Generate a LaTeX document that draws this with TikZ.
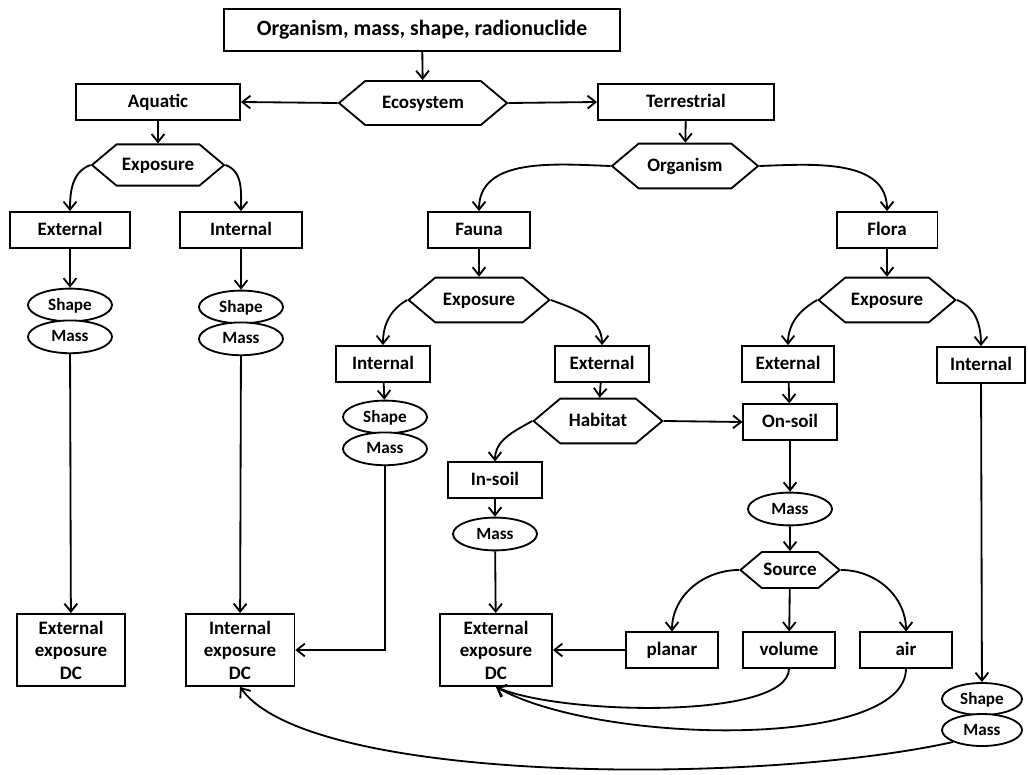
\documentclass[tikz,border=0pt]{standalone}
\usepackage{fontspec}
\setmainfont{Carlito}
\usepackage{tikz}
\usetikzlibrary{positioning, shapes.geometric, shapes.symbols, arrows, arrows.meta}

\begin{document}
\begin{tikzpicture}[x=0.025cm, y=-0.025cm, >={Straight Barb[length=2mm, width=3.2mm]}, every node/.style={font=\bfseries\fontsize{13.5}{16}\selectfont}]
		\tikzstyle{boxr}=[draw=black, line width=1.3pt, fill=white, minimum height=0.9cm, text height=1.8ex, text depth=.3ex, text=black]
		\tikzstyle{dcbox}=[draw=black, line width=1.3pt, fill=white, minimum width=2.75cm, minimum height=1.8cm, align=center, text=black]
		\tikzstyle{hexa}=[draw=black, line width=1.3pt, fill=white, signal, signal to=west and east, signal pointer angle=80, minimum height=1.1cm, inner xsep=0pt, text height=1.8ex, text depth=.3ex]
		\tikzstyle{ovalc}=[draw=black, line width=1.3pt, fill=white, ellipse, minimum width=2.1cm, minimum height=0.82cm, inner sep=0pt, text height=1.8ex, text depth=.3ex, font=\bfseries\fontsize{12.2}{14}\selectfont]
		\tikzstyle{link}=[line width=1.3pt, ->]
		
		\useasboundingbox (0,0) rectangle (1028,775);
		
		\node[boxr, minimum width=9.9cm, minimum height=1.03cm, font=\bfseries\fontsize{15.5}{18}\selectfont] (top) at (422,30) {Organism, mass, shape, radionuclide};
		\node[hexa, minimum width=4.2cm] (eco) at (423,103) {Ecosystem};
		\node[boxr, minimum width=4.1cm, minimum height=0.88cm] (aq) at (158,102) {Aquatic};
		\node[boxr, minimum width=4.4cm, minimum height=0.88cm] (ter) at (686,102) {Terrestrial};
		
		%% aquatic branch
		\node[hexa, minimum width=3.3cm, minimum height=1.03cm] (aqexp) at (158,165) {Exposure};
		\node[boxr, minimum width=3cm] (aqext) at (70,230) {External};
		\node[boxr, minimum width=3.05cm] (aqint) at (241,230) {Internal};
		\node[ovalc] (aqS1) at (70,305) {Shape};
		\node[ovalc, below=-2pt of aqS1] (aqM1) {Mass};
		\node[ovalc] (aqS2) at (241,307) {Shape};
		\node[ovalc, below=-2pt of aqS2] (aqM2) {Mass};
		\node[dcbox, minimum width=2.7cm] (dc1) at (71,650) {External\\exposure\\DC};
		\node[dcbox, minimum width=2.72cm] (dc2) at (240,650) {Internal\\exposure\\DC};
		
		%% terrestrial branch
		\node[hexa, minimum width=3.65cm, minimum height=1.12cm] (org) at (685,166) {Organism};
		\node[boxr, minimum width=2.55cm] (fauna) at (479,230) {Fauna};
		\node[boxr, minimum width=2.52cm] (flora) at (887,230) {Flora};
		\node[hexa, minimum width=3.52cm, minimum height=1.12cm] (faexp) at (479,300) {Exposure};
		\node[hexa, minimum width=3.42cm, minimum height=1.12cm] (flexp) at (887,300) {Exposure};
		\node[boxr, minimum width=2.33cm] (faint) at (383,364) {Internal};
		\node[boxr, minimum width=2.33cm] (faext) at (602,364) {External};
		\node[boxr, minimum width=2.3cm] (flext) at (788,364) {External};
		\node[boxr, minimum width=2.18cm] (flint) at (981,365) {Internal};
		\node[ovalc] (faS) at (385,417) {Shape};
		\node[ovalc, below=-2pt of faS] (faM) {Mass};
		\node[hexa, minimum width=3.22cm, minimum height=1.12cm] (hab) at (598,421) {Habitat};
		\node[boxr, minimum width=2.33cm, minimum height=0.88cm] (onsoil) at (790,422) {On-soil};
		\node[boxr, minimum width=2.33cm, minimum height=0.88cm] (insoil) at (495,480) {In-soil};
		\node[ovalc] (inM) at (495,534) {Mass};
		\node[ovalc] (onM) at (790,509) {Mass};
		\node[hexa, minimum width=2.48cm, minimum height=0.9cm] (src) at (790,570) {Source};
		\node[boxr, minimum width=2.3cm, minimum height=0.88cm] (planar) at (672,650) {planar};
		\node[boxr, minimum width=2.3cm, minimum height=0.88cm] (volume) at (789,650) {volume};
		\node[boxr, minimum width=2.3cm, minimum height=0.88cm] (air) at (906,650) {air};
		\node[dcbox, minimum width=2.8cm] (dc3) at (496,650) {External\\exposure\\DC};
		\node[ovalc, minimum width=2cm, minimum height=0.8cm] (flS) at (982,699) {Shape};
		\node[ovalc, minimum width=2cm, minimum height=0.8cm, below=-2pt of flS] (flM) {Mass};
		
		\draw[link] (top)--(eco);
		\draw[link] (eco.west)--(aq.east);
		\draw[link] (eco.east)--(ter.west);
		\draw[link] (aq)--(aqexp);
		\draw[link] (aqexp.west) to[out=200, in=90] (aqext.north);
		\draw[link] (aqexp.east) to[out=-20, in=90] (aqint.north);
		\draw[link] (aqext)--(aqS1);
		\draw[link] (aqint)--(aqS2);
		\draw[link] (aqM1)--(dc1);
		\draw[link] (aqM2)--(dc2);
		
		\draw[link] (ter)--(org);
		\draw[link] (org.west) to[out=178, in=90] (fauna.north);
		\draw[link] (org.east) to[out=2, in=90] (flora.north);
		\draw[link] (fauna)--(faexp);
		\draw[link] (flora)--(flexp);
		\draw[link] (faexp.west) to[out=210, in=90] (faint.north);
		\draw[link] (faexp.east) to[out=-20, in=90] (faext.north);
		\draw[link] (flexp.west) to[out=210, in=90] (flext.north);
		\draw[link] (flexp.east) to[out=-20, in=90] (flint.north);
		\draw[link] (faint)--(faS);
		\draw[link] (faM) |- (dc2);
		\draw[link] (faext)--(hab);
		\draw[link] (hab.west) to[out=210, in=90] (insoil.north);
		\draw[link] (hab.east)--(onsoil.west);
		\draw[link] (flext)--(onsoil);
		\draw[link] (insoil)--(inM);
		\draw[link] (inM)--(dc3);
		\draw[link] (onsoil)--(onM);
		\draw[link] (onM)--(src);
		\draw[link] (src.west) to[out=180, in=90] (planar.north);
		\draw[link] (src)--(volume);
		\draw[link] (src.east) to[out=0, in=90] (air.north);
		\draw[link] (planar)--(dc3);
		\draw[link] (volume.south) .. controls (789,720) and (560,715) .. (dc3.south);
		\draw[link] (air.south) .. controls (906,750) and (600,745) .. (dc3.south);
		\draw[link] (flint)--(flS);
		\draw[link] (flM.south west) .. controls (760,785) and (310,785) .. (dc2.south);
\end{tikzpicture}
\end{document}
